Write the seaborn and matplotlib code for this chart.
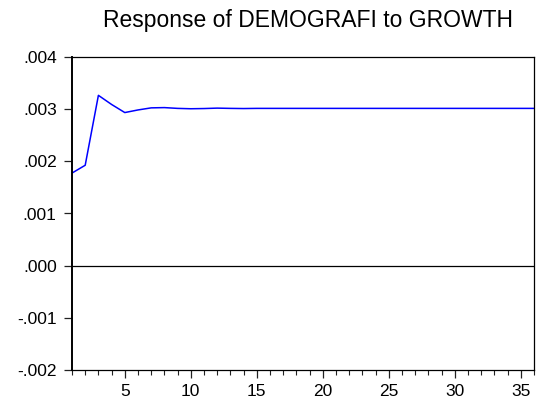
import matplotlib
matplotlib.use("Agg")
import matplotlib.pyplot as plt
from matplotlib.ticker import MultipleLocator, FuncFormatter
import seaborn as sns
import pandas as pd

# Impulse response of DEMOGRAFI to a GROWTH shock, periods 1..36
periods = list(range(1, 37))
response = [0.001775, 0.001925, 0.003265, 0.003090, 0.002935, 0.002985, 0.003025,
            0.003030, 0.003015, 0.003008, 0.003012, 0.003020, 0.003015, 0.003012,
            0.003015, 0.003015, 0.003015, 0.003015, 0.003015, 0.003015, 0.003015,
            0.003015, 0.003015, 0.003015, 0.003015, 0.003015, 0.003015, 0.003015,
            0.003015, 0.003015, 0.003015, 0.003015, 0.003015, 0.003015, 0.003015,
            0.003015]
y_ticks = [-0.002, -0.001, 0.000, 0.001, 0.002, 0.003, 0.004]
x_ticks = [5, 10, 15, 20, 25, 30, 35]
title = "Response of DEMOGRAFI to GROWTH"

sns.set_style("white")
plt.rcParams["font.family"] = ["Liberation Sans", "DejaVu Sans"]
plt.rcParams["text.color"] = "black"

df = pd.DataFrame({"period": periods, "response": response})

fig = plt.figure(figsize=(5.4, 4.07), dpi=100)
ax = fig.add_axes([72 / 540, 1 - 370 / 407, (534 - 72) / 540, (370 - 57) / 407])

sns.lineplot(data=df, x="period", y="response", ax=ax, color="#0000ff", linewidth=1.1)
ax.axhline(0, color="black", linewidth=0.9)

ax.set_xlim(1, 36)
ax.set_ylim(-0.002, 0.004)
ax.set_xticks(x_ticks)
ax.xaxis.set_minor_locator(MultipleLocator(1))
ax.set_yticks(y_ticks)

def fmt(v, pos):
    s = f"{v:.3f}"
    if s.startswith("-0"):
        return "-" + s[2:]
    if s.startswith("0"):
        return s[1:]
    return s

ax.yaxis.set_major_formatter(FuncFormatter(fmt))
ax.tick_params(axis="both", which="major", direction="out", length=6, width=0.9,
               colors="#222222", labelcolor="black", labelsize=12.5,
               bottom=True, left=True)
ax.tick_params(axis="x", which="minor", direction="out", length=3.6, width=0.8,
               bottom=True, colors="#222222")
ax.tick_params(axis="x", which="major", pad=4)
ax.tick_params(axis="y", which="major", pad=5)

for side in ["top", "right", "bottom", "left"]:
    ax.spines[side].set_color("black")
    ax.spines[side].set_linewidth(0.9)
ax.spines["left"].set_linewidth(1.4)

ax.set_xlabel("")
ax.set_ylabel("")
fig.text(308 / 540, 1 - 20 / 407, title, ha="center", va="center",
         fontsize=16.5, color="black")

fig.savefig("out.png", dpi=100, facecolor="white")
